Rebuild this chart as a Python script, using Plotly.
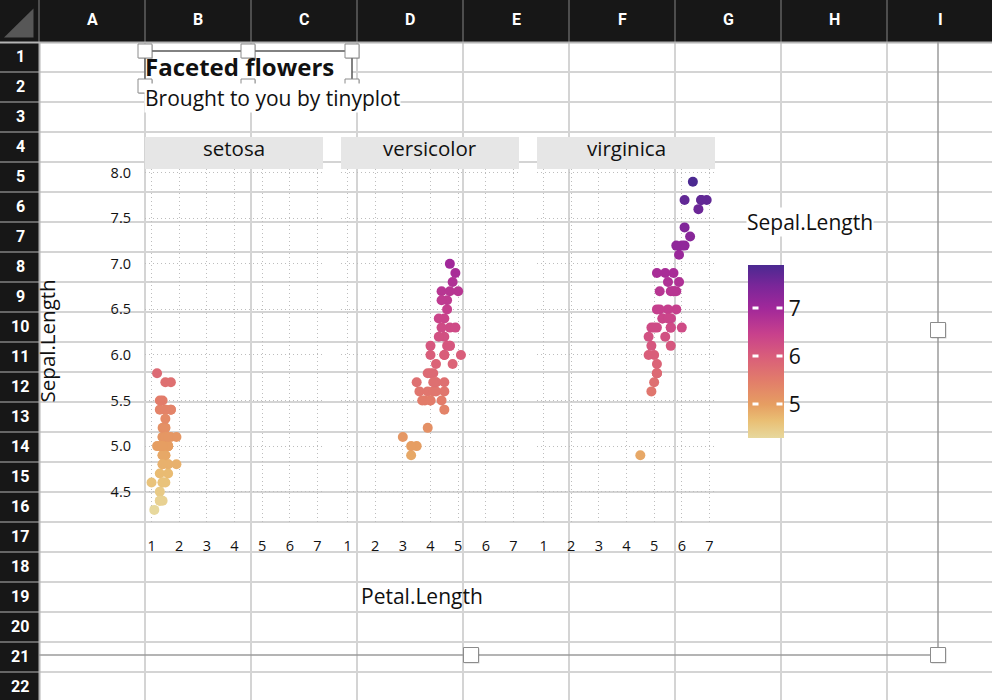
import plotly.graph_objects as go

W, H = 992, 700

# iris data, per species
species = ["setosa", "versicolor", "virginica"]

setosa_petal = [1.4, 1.4, 1.3, 1.5, 1.4, 1.7, 1.4, 1.5, 1.4, 1.5, 1.5, 1.6, 1.4, 1.1, 1.2, 1.5, 1.3,
                1.4, 1.7, 1.5, 1.7, 1.5, 1.0, 1.7, 1.9, 1.6, 1.6, 1.5, 1.4, 1.6, 1.6, 1.5, 1.5, 1.4,
                1.5, 1.2, 1.3, 1.4, 1.3, 1.5, 1.3, 1.3, 1.3, 1.6, 1.9, 1.4, 1.6, 1.4, 1.5, 1.4]
setosa_sepal = [5.1, 4.9, 4.7, 4.6, 5.0, 5.4, 4.6, 5.0, 4.4, 4.9, 5.4, 4.8, 4.8, 4.3, 5.8, 5.7, 5.4,
                5.1, 5.7, 5.1, 5.4, 5.1, 4.6, 5.1, 4.8, 5.0, 5.0, 5.2, 5.2, 4.7, 4.8, 5.4, 5.2, 5.5,
                4.9, 5.0, 5.5, 4.9, 4.4, 5.1, 5.0, 4.5, 4.4, 5.0, 5.1, 4.8, 5.1, 4.6, 5.3, 5.0]

versicolor_petal = [4.7, 4.5, 4.9, 4.0, 4.6, 4.5, 4.7, 3.3, 4.6, 3.9, 3.5, 4.2, 4.0, 4.7, 3.6, 4.4, 4.5,
                    4.1, 4.5, 3.9, 4.8, 4.0, 4.9, 4.7, 4.3, 4.4, 4.8, 5.0, 4.5, 3.5, 3.8, 3.7, 3.9, 5.1,
                    4.5, 4.5, 4.7, 4.4, 4.1, 4.0, 4.4, 4.6, 4.0, 3.3, 4.2, 4.2, 4.2, 4.3, 3.0, 4.1]
versicolor_sepal = [7.0, 6.4, 6.9, 5.5, 6.5, 5.7, 6.3, 4.9, 6.6, 5.2, 5.0, 5.9, 6.0, 6.1, 5.6, 6.7, 5.6,
                    5.8, 6.2, 5.6, 5.9, 6.1, 6.3, 6.1, 6.4, 6.6, 6.8, 6.7, 6.0, 5.7, 5.5, 5.5, 5.8, 6.0,
                    5.4, 6.0, 6.7, 6.3, 5.6, 5.5, 5.5, 6.1, 5.8, 5.0, 5.6, 5.7, 5.7, 6.2, 5.1, 5.7]

virginica_petal = [6.0, 5.1, 5.9, 5.6, 5.8, 6.6, 4.5, 6.3, 5.8, 6.1, 5.1, 5.3, 5.5, 5.0, 5.1, 5.3, 5.5,
                   6.7, 6.9, 5.0, 5.7, 4.9, 6.7, 4.9, 5.7, 6.0, 4.8, 4.9, 5.6, 5.8, 6.1, 6.4, 5.6, 5.1,
                   5.6, 6.1, 5.6, 5.5, 4.8, 5.4, 5.6, 5.1, 5.1, 5.9, 5.7, 5.2, 5.0, 5.2, 5.4, 5.1]
virginica_sepal = [6.3, 5.8, 7.1, 6.3, 6.5, 7.6, 4.9, 7.3, 6.7, 7.2, 6.5, 6.4, 6.8, 5.7, 5.8, 6.4, 6.5,
                   7.7, 7.7, 6.0, 6.9, 5.6, 7.7, 6.3, 6.7, 7.2, 6.2, 6.1, 6.4, 7.2, 7.4, 7.9, 6.4, 6.3,
                   6.1, 7.7, 6.3, 6.4, 6.0, 6.9, 6.7, 6.9, 5.8, 6.8, 6.7, 6.7, 6.3, 6.5, 6.2, 5.9]

x_ticks = [1, 2, 3, 4, 5, 6, 7]
y_ticks = [4.5, 5.0, 5.5, 6.0, 6.5, 7.0, 7.5, 8.0]
cbar_ticks = [5, 6, 7]

col_letters = ["A", "B", "C", "D", "E", "F", "G", "H", "I"]
row_numbers = list(range(1, 23))

petals = [setosa_petal, versicolor_petal, virginica_petal]
sepals = [setosa_sepal, versicolor_sepal, virginica_sepal]

all_sepal = setosa_sepal + versicolor_sepal + virginica_sepal
cmin, cmax = min(all_sepal), max(all_sepal)

sunset = [[0.0, "#E7D89D"], [0.1, "#E9BF74"], [0.194, "#E69E62"], [0.33, "#E27D6A"],
          [0.47, "#D95E7A"], [0.6, "#C8418C"], [0.75, "#A1289A"], [0.88, "#7A2699"],
          [1.0, "#4B2991"]]

FONT = "Open Sans"
GRID = "#d4d4d4"
HEAD = "#171717"
HSEP = "#4d4d4d"


def px(x):
    return x / W


def py(y):
    return 1 - y / H


shapes = []
annotations = []


def line(x0, y0, x1, y1, color, width):
    shapes.append(dict(type="line", xref="paper", yref="paper", layer="below",
                       x0=px(x0), y0=py(y0), x1=px(x1), y1=py(y1),
                       line=dict(color=color, width=width)))


def rect(x0, y0, x1, y1, fill, lc=None, lw=0):
    shapes.append(dict(type="rect", xref="paper", yref="paper", layer="below",
                       x0=px(x0), y0=py(y0), x1=px(x1), y1=py(y1), fillcolor=fill,
                       line=dict(color=lc if lc else fill, width=lw)))


# y is the visual centre of the capitals; nudge up for the line box
def text(x, y, s, size, xanchor="center", color="#111111", family=FONT, bg=None, angle=0):
    if angle == 0:
        y = y - 0.2 * size + 1.5
    else:
        x = x - 0.2 * size + 1.5
    if xanchor == "left":
        x = x - 2
    annotations.append(dict(x=px(x), y=py(y), xref="paper", yref="paper", text=s,
                            showarrow=False, xanchor=xanchor, yanchor="middle",
                            textangle=angle, bgcolor=bg, borderpad=0,
                            font=dict(size=size, color=color, family=family)))


def handle(cx, cy, s):
    rect(cx - s / 2 + 1, cy - s / 2 + 1, cx + s / 2 + 1, cy + s / 2 + 1, "rgba(0,0,0,0.18)")
    rect(cx - s / 2, cy - s / 2, cx + s / 2, cy + s / 2, "white", "#8c8c8c", 1)


# spreadsheet cells
for k in range(1, 23):
    line(39, 42 + 30 * k, W, 42 + 30 * k, GRID, 2)
for k in range(1, 9):
    line(39 + 106 * k, 42, 39 + 106 * k, H, GRID, 2)

# headers
rect(0, 0, W, 42, HEAD)
rect(0, 0, 39, H, HEAD)
for k in range(0, 9):
    line(39 + 106 * k, 0, 39 + 106 * k, 42, HSEP, 2)
for k in range(1, 23):
    line(0, 42 + 30 * k, 39, 42 + 30 * k, "#666666", 2)
line(0, 42.5, W, 42.5, "#b4b4b4", 2)
line(39.5, 42, 39.5, H, "#b4b4b4", 2)
shapes.append(dict(type="path", xref="paper", yref="paper", layer="below",
                   path=f"M {px(4)},{py(37.5)} L {px(33.5)},{py(37.5)} L {px(33.5)},{py(8.5)} Z",
                   fillcolor="#575757", line=dict(width=0)))
for k, c in enumerate(col_letters):
    text(39 + 106 * k + 53, 21, f"<b>{c}</b>", 16, color="white", family="Roboto")
for n in row_numbers:
    text(20, 58.5 + 30 * (n - 1), f"<b>{n}</b>", 16, color="white", family="Roboto")

# facet strips
strip_x = [145, 341, 537]
for sx, sp in zip(strip_x, species):
    rect(sx, 137, sx + 178, 169, "#e6e6e6")
    text(sx + 89, 150.5, sp, 20.5)

# title box
rect(145, 51, 352, 86, "white", "#5a5a5a", 1.5)
text(146, 69.5, "<b>Faceted flowers</b>", 24, xanchor="left")
text(146, 100.5, "Brought to you by tinyplot", 21, xanchor="left", bg="white")

# chart selection frame
line(938, 42, 938, 655, "#9b9b9b", 1.5)
line(39, 655, 938, 655, "#9b9b9b", 1.5)
for hx in [145, 248, 352]:
    for hy in [51, 86]:
        handle(hx, hy, 14)
for hx, hy in [(938, 330), (471, 655), (938, 655)]:
    handle(hx, hy, 15)

# axis titles
text(50, 341, "Sepal.Length", 20.5, angle=-90)
text(422, 599, "Petal.Length", 21)
text(748, 224.5, "Sepal.Length", 21, xanchor="left", bg="white")

# colorbar dashes
cb_top, cb_bot = 265, 438
for v in cbar_ticks:
    yy = cb_bot - (v - cmin) / (cmax - cmin) * (cb_bot - cb_top)
    for xa in [755.5, 779]:
        annotations.append(dict(x=px(xa), y=py(yy), xref="paper", yref="paper", text="",
                                showarrow=False, width=5, height=2, bgcolor="white",
                                borderpad=0, xanchor="center", yanchor="middle"))

fig = go.Figure()
for i, sp in enumerate(species):
    suf = "" if i == 0 else str(i + 1)
    fig.add_trace(go.Scatter(x=petals[i], y=sepals[i], mode="markers", name=sp,
                             xaxis="x" + suf, yaxis="y" + suf, showlegend=False,
                             marker=dict(size=10, color=sepals[i], coloraxis="coloraxis",
                                         line=dict(width=0))))

y_span = cmax - cmin
y_range = [cmin - 0.04 * y_span, cmax + 0.04 * y_span]
x_range = [0.764, 7.2]

axis_common = dict(showline=False, zeroline=False, showgrid=True, gridcolor="#bdbdbd",
                   griddash="1px,3px", gridwidth=1, ticks="", automargin=False,
                   tickfont=dict(size=14.5, color="#111111"))

layout = dict(
    width=W, height=H, autosize=False,
    margin=dict(l=0, r=0, t=0, b=0, pad=0, autoexpand=False),
    paper_bgcolor="white", plot_bgcolor="rgba(0,0,0,0)",
    font=dict(family=FONT, color="#111111"),
    shapes=shapes, annotations=annotations,
    coloraxis=dict(cmin=cmin, cmax=cmax, colorscale=sunset,
                   colorbar=dict(x=px(748), xanchor="left", y=py((cb_top + cb_bot) / 2),
                                 yanchor="middle", len=cb_bot - cb_top, lenmode="pixels",
                                 thickness=36, thicknessmode="pixels", xpad=0, ypad=0,
                                 outlinewidth=0, tickvals=cbar_ticks, ticks="",
                                 tickfont=dict(size=21, color="#111111"))),
)
for i, sx in enumerate(strip_x):
    suf = "" if i == 0 else str(i + 1)
    layout["xaxis" + suf] = dict(axis_common, domain=[px(sx), px(sx + 178)], range=x_range,
                                 tickvals=x_ticks, anchor="y" + suf, ticklabelstandoff=12)
    layout["yaxis" + suf] = dict(axis_common, domain=[py(523), py(168.7)], range=y_range,
                                 tickvals=y_ticks, tickformat=".1f", anchor="x" + suf,
                                 showticklabels=(i == 0), ticklabelstandoff=13)
    if i > 0:
        layout["yaxis" + suf]["matches"] = "y"

fig.update_layout(layout)
pin = ("document.body.style.margin='0px';document.body.style.overflow='hidden';"
       "var d=document.getElementById('{plot_id}');d.style.position='fixed';"
       "d.style.top='0px';d.style.left='0px';")
fig.write_html("out.html", config={"displayModeBar": False}, post_script=pin)
